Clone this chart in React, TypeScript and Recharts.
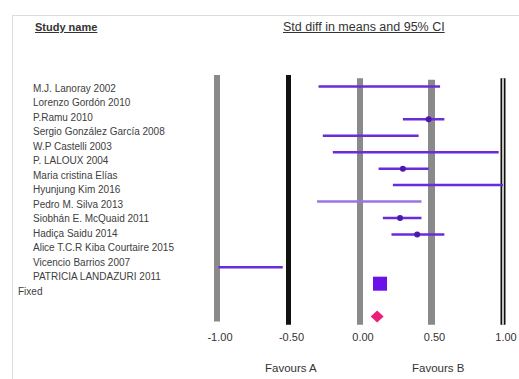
import React from 'react';
import {
  ComposedChart,
  XAxis,
  YAxis,
  Scatter,
  ReferenceLine,
} from 'recharts';

// study labels, top to bottom (row index = position + 1)
const studies = [
  'M.J. Lanoray 2002',
  'Lorenzo Gordón 2010',
  'P.Ramu 2010',
  'Sergio González García 2008',
  'W.P Castelli 2003',
  'P. LALOUX 2004',
  'Maria cristina Elías',
  'Hyunjung Kim 2016',
  'Pedro M. Silva 2013',
  'Siobhán E. McQuaid 2011',
  'Hadiça Saidu 2014',
  'Alice T.C.R Kiba Courtaire 2015',
  'Vicencio Barrios 2007',
  'PATRICIA LANDAZURI 2011',
  'Fixed',
];

// confidence intervals that are visible in the plot
const ciRows = [1, 3, 4, 5, 6, 7, 8, 9, 10, 12];
const ciLow = [-0.29, 0.3, -0.26, -0.19, 0.13, 0.23, -0.3, 0.16, 0.22, -0.99];
const ciHigh = [0.56, 0.59, 0.41, 0.97, 0.48, 1.0, 0.43, 0.43, 0.59, -0.54];

// point estimates that are drawn as small dots
const pointRows = [3, 6, 9, 10];
const pointEst = [0.48, 0.3, 0.28, 0.4];

const squareRow = [13];
const squareEst = [0.14];
const fixedRow = [15];
const fixedEst = [0.12];

const xTicks = [-1, -0.5, 0, 0.5, 1];
const labelRows = studies.map((_, i) => i + 1);

const W = 519;
const H = 379;
const PURPLE = '#6a2bd8';

const ciData = ciRows.map((r, i) => ({ row: r, lo: ciLow[i], hi: ciHigh[i] }));
const dotData = pointRows.map((r, i) => ({ x: pointEst[i], y: r }));
const squareData = squareRow.map((r, i) => ({ x: squareEst[i], y: r }));
const fixedData = fixedRow.map((r, i) => ({ x: fixedEst[i], y: r }));

const gridLines = [
  { v: -1, color: '#8a8a8a', w: 6, top: 0.3, bottom: 15.3 },
  { v: -0.5, color: '#111', w: 5, top: 0.3, bottom: 15.5 },
  { v: 0, color: '#8a8a8a', w: 6, top: 0.5, bottom: 15.5 },
  { v: 0.5, color: '#8a8a8a', w: 7, top: 0.6, bottom: 15.5 },
  { v: 1, color: '#111', w: 5, top: 0.5, bottom: 15.5 },
];

const font = 'Liberation Sans, Arial, sans-serif';

const LabelTick = (props: any) => {
  const { y, payload } = props;
  const name = studies[payload.value - 1];
  const isFixed = name === 'Fixed';
  return (
    <text
      x={isFixed ? 18 : 33}
      y={y}
      dy={4}
      textAnchor="start"
      fontSize={10}
      fontFamily={font}
      fill="#404040"
    >
      {name}
    </text>
  );
};

const XTick = (props: any) => {
  const { x, payload } = props;
  return (
    <text x={x + 3} y={341} textAnchor="middle" fontSize={11} fontFamily={font} fill="#333">
      {payload.value.toFixed(2)}
    </text>
  );
};

const Dot = (props: any) => (
  <circle cx={props.cx} cy={props.cy} r={3} fill="#4b18b0" />
);

const Square = (props: any) => (
  <rect x={props.cx - 7} y={props.cy - 7} width={14} height={14} fill="#6a10e8" />
);

const Diamond = (props: any) => {
  const { cx, cy } = props;
  return (
    <polygon
      points={`${cx - 6.5},${cy} ${cx},${cy - 6} ${cx + 6.5},${cy} ${cx},${cy + 6}`}
      fill="#e8207a"
    />
  );
};

export default function App() {
  return (
    <div style={{ position: 'absolute', left: 0, top: 0, width: W, height: H, background: '#fff' }}>
      <div
        style={{
          position: 'absolute',
          left: 12,
          top: 15,
          width: W - 12,
          height: H - 15,
          borderTop: '1px solid #dcdcdc',
          borderLeft: '1px solid #dcdcdc',
        }}
      />
      <div
        style={{
          position: 'absolute',
          left: 35,
          top: 21,
          fontSize: 11,
          fontWeight: 'bold',
          textDecoration: 'underline',
          color: '#333',
          fontFamily: font,
        }}
      >
        Study name
      </div>
      <div
        style={{
          position: 'absolute',
          left: 283,
          top: 20,
          fontSize: 12.5,
          textDecoration: 'underline',
          color: '#333',
          fontFamily: font,
        }}
      >
        Std diff in means and 95% CI
      </div>
      <div style={{ position: 'absolute', left: 265, top: 362, fontSize: 11.5, color: '#333', fontFamily: font }}>
        Favours A
      </div>
      <div style={{ position: 'absolute', left: 412, top: 362, fontSize: 11.5, color: '#333', fontFamily: font }}>
        Favours B
      </div>
      <ComposedChart
        width={W}
        height={H}
        margin={{ top: 70, right: 16, bottom: 16, left: 0 }}
        style={{ position: 'absolute', left: 0, top: 0 }}
      >
        <XAxis
          xAxisId="x"
          type="number"
          dataKey="x"
          domain={[-1, 1]}
          ticks={xTicks}
          allowDataOverflow
          axisLine={false}
          tickLine={false}
          height={30}
          tick={<XTick />}
        />
        <YAxis
          yAxisId="labels"
          type="number"
          orientation="left"
          width={217}
          domain={[-0.24, 17.93]}
          reversed
          allowDataOverflow
          ticks={labelRows}
          interval={0}
          axisLine={false}
          tickLine={false}
          tick={<LabelTick />}
        />
        <YAxis yAxisId="rows" type="number" dataKey="y" domain={[0, 16]} reversed allowDataOverflow hide />

        {gridLines.map((g) => (
          <ReferenceLine
            key={`g${g.v}`}
            xAxisId="x"
            yAxisId="rows"
            segment={[
              { x: g.v, y: g.top },
              { x: g.v, y: g.bottom },
            ]}
            stroke={g.color}
            strokeWidth={g.w}
            ifOverflow="visible"
          />
        ))}
        <ReferenceLine
          xAxisId="x"
          yAxisId="rows"
          segment={[
            { x: 1, y: 0.5 },
            { x: 1, y: 15.5 },
          ]}
          stroke="#fff"
          strokeWidth={1.5}
          ifOverflow="visible"
        />

        {ciData.map((c) => (
          <ReferenceLine
            key={`ci${c.row}`}
            xAxisId="x"
            yAxisId="rows"
            segment={[
              { x: c.lo, y: c.row },
              { x: c.hi, y: c.row },
            ]}
            stroke={c.row === 8 ? '#9a74e0' : PURPLE}
            strokeWidth={2.5}
            ifOverflow="visible"
          />
        ))}

        <Scatter xAxisId="x" yAxisId="rows" data={dotData} shape={<Dot />} isAnimationActive={false} />
        <Scatter xAxisId="x" yAxisId="rows" data={squareData} shape={<Square />} isAnimationActive={false} />
        <Scatter xAxisId="x" yAxisId="rows" data={fixedData} shape={<Diamond />} isAnimationActive={false} />
      </ComposedChart>
    </div>
  );
}
